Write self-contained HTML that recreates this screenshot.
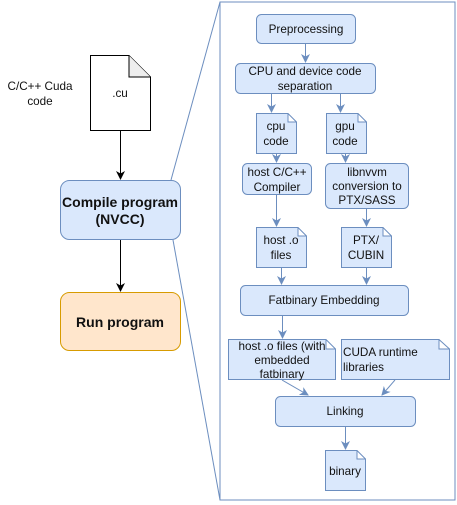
<!DOCTYPE html>
<html><head><style>
html,body{margin:0;padding:0;background:#fff;}
svg{display:block;}
text{font-family:"Liberation Sans",Arial,sans-serif;font-size:11.7px;fill:#111;text-anchor:middle;}
.b{fill:#dae8fc;stroke:#6c8ebf;stroke-width:1;}
.l{stroke:#6c8ebf;stroke-width:1;fill:none;}
</style></head><body>
<svg width="457" height="505" viewBox="0 0 457 505" xmlns="http://www.w3.org/2000/svg">
<defs>
<marker id="ab" markerWidth="10" markerHeight="10" refX="8" refY="5" orient="auto" markerUnits="userSpaceOnUse"><path d="M0,0.5 L9,5 L0,9.5 L2.5,5 Z" fill="#6c8ebf"/></marker>
<marker id="ak" markerWidth="10" markerHeight="10" refX="8" refY="5" orient="auto" markerUnits="userSpaceOnUse"><path d="M0,0.5 L9,5 L0,9.5 L2.5,5 Z" fill="#000"/></marker>
</defs>
<line x1="171" y1="180" x2="220" y2="2" class="l"/>
<line x1="173" y1="240" x2="220" y2="500" class="l"/>
<rect x="220" y="2" width="235" height="498" fill="#fff" stroke="#6c8ebf"/>

<text x="40" y="90">C/C++ Cuda</text>
<text x="40" y="105">code</text>
<path d="M90.5,55.5 H129 L150.5,77 V130.5 H90.5 Z" fill="#fff" stroke="#000"/>
<path d="M129,55.5 V77 H150.5" fill="#eee" stroke="#000"/>
<text x="120" y="97">.cu</text>
<line x1="120.5" y1="130" x2="120.5" y2="179" stroke="#000" marker-end="url(#ak)"/>
<rect x="60.5" y="180.5" width="120" height="59" rx="9" class="b"/>
<text x="120" y="207" style="font-weight:bold;font-size:14px">Compile program</text>
<text x="120" y="224" style="font-weight:bold;font-size:14px">(NVCC)</text>
<line x1="120.5" y1="240" x2="120.5" y2="291" stroke="#000" marker-end="url(#ak)"/>
<rect x="60.5" y="292.5" width="120" height="58" rx="9" fill="#ffe6cc" stroke="#d79b00"/>
<text x="120" y="327" style="font-weight:bold;font-size:14px">Run program</text>

<rect x="256.5" y="14.5" width="99" height="29" rx="5" class="b"/>
<text x="306" y="33">Preprocessing</text>
<line x1="305.5" y1="44" x2="305.5" y2="62" class="l" marker-end="url(#ab)"/>
<rect x="235.5" y="63.5" width="140" height="30" rx="5" class="b"/>
<text x="305" y="75">CPU and device code</text>
<text x="305" y="90">separation</text>

<line x1="271.5" y1="94" x2="271.5" y2="112" class="l" marker-end="url(#ab)"/>
<line x1="340.5" y1="94" x2="340.5" y2="112" class="l" marker-end="url(#ab)"/>

<path d="M256.5,113.5 H288 L296.5,122 V153.5 H256.5 Z M288,113.5 V122 H296.5" class="b"/>
<text x="276" y="130">cpu</text><text x="276" y="145">code</text>
<path d="M326.5,113.5 H358 L366.5,122 V153.5 H326.5 Z M358,113.5 V122 H366.5" class="b"/>
<text x="345" y="130">gpu</text><text x="345" y="145">code</text>

<line x1="276.5" y1="154" x2="276.5" y2="162" class="l" marker-end="url(#ab)"/>
<line x1="345.5" y1="154" x2="345.5" y2="162" class="l" marker-end="url(#ab)"/>

<rect x="242.5" y="163.5" width="69" height="31" rx="5" class="b"/>
<text x="277" y="176">host C/C++</text><text x="277" y="191">Compiler</text>
<rect x="325.5" y="163.5" width="83" height="45" rx="5" class="b"/>
<text x="367" y="176">libnvvm</text><text x="367" y="190">conversion to</text><text x="367" y="204">PTX/SASS</text>

<line x1="276.5" y1="195" x2="276.5" y2="226" class="l" marker-end="url(#ab)"/>
<line x1="366.5" y1="209" x2="366.5" y2="226" class="l" marker-end="url(#ab)"/>

<path d="M256.5,227.5 H298 L306.5,236 V267.5 H256.5 Z M298,227.5 V236 H306.5" class="b"/>
<text x="281" y="244">host .o</text><text x="281" y="259">files</text>
<path d="M341.5,227.5 H383 L391.5,236 V267.5 H341.5 Z M383,227.5 V236 H391.5" class="b"/>
<text x="366" y="244">PTX/</text><text x="366" y="259">CUBIN</text>

<line x1="281.5" y1="268" x2="281.5" y2="284" class="l" marker-end="url(#ab)"/>
<line x1="366.5" y1="268" x2="366.5" y2="284" class="l" marker-end="url(#ab)"/>

<rect x="240.5" y="285.5" width="168" height="30" rx="5" class="b"/>
<text x="324" y="304">Fatbinary Embedding</text>

<line x1="282.5" y1="316" x2="282.5" y2="338" class="l" marker-end="url(#ab)"/>

<path d="M228.5,339.5 H326 L335.5,349 V379.5 H228.5 Z M326,339.5 V349 H335.5" class="b"/>
<text x="282" y="350">host .o files (with</text><text x="282" y="364">embedded</text><text x="282" y="378">fatbinary</text>
<path d="M341.5,339.5 H439 L449.5,349 V379.5 H341.5 Z M439,339.5 V349 H449.5" class="b"/>
<text x="343" y="356" style="text-anchor:start">CUDA runtime</text><text x="343" y="371" style="text-anchor:start">libraries</text>

<line x1="282" y1="380" x2="308" y2="395" class="l" marker-end="url(#ab)"/>
<line x1="395" y1="380" x2="382" y2="395" class="l" marker-end="url(#ab)"/>

<rect x="275.5" y="396.5" width="140" height="30" rx="5" class="b"/>
<text x="345" y="415">Linking</text>
<line x1="345.5" y1="427" x2="345.5" y2="449" class="l" marker-end="url(#ab)"/>
<path d="M325.5,450.5 H357 L365.5,459 V490.5 H325.5 Z M357,450.5 V459 H365.5" class="b"/>
<text x="345" y="475">binary</text>
</svg>
</body></html>
